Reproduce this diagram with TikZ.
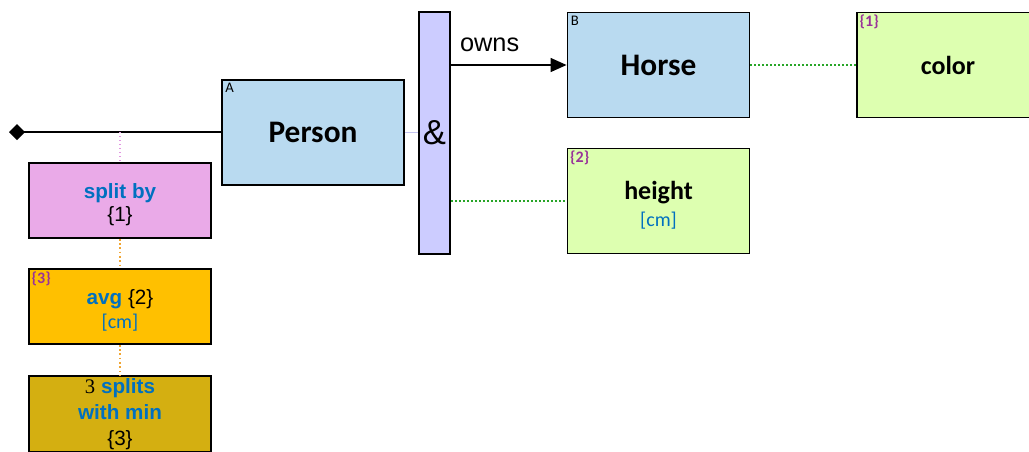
\documentclass[tikz,border=0pt]{standalone}
\usepackage{fontspec}
\setmainfont{Carlito}
\newfontfamily\arialf{Liberation Sans}
\newfontfamily\timesf{Liberation Serif}
\usetikzlibrary{arrows.meta,positioning}

\definecolor{entityblue}{RGB}{185,218,240}
\definecolor{attrgreen}{RGB}{221,255,176}
\definecolor{barlav}{RGB}{204,204,255}
\definecolor{splitpink}{RGB}{234,170,232}
\definecolor{avgorange}{RGB}{255,192,0}
\definecolor{minolive}{RGB}{212,175,17}
\definecolor{keyblue}{RGB}{0,112,192}
\definecolor{tagpurple}{RGB}{153,51,153}
\definecolor{linkgreen}{RGB}{40,165,40}
\definecolor{pinkdot}{RGB}{225,150,225}
\definecolor{orangedot}{RGB}{240,165,50}
\definecolor{lavline}{RGB}{195,195,240}

\newcommand{\entityfont}{\fontsize{23.5}{28}\selectfont\bfseries}
\newcommand{\attrfont}{\fontsize{19.5}{22}\selectfont\bfseries}
\newcommand{\unitfont}{\fontsize{15}{18}\selectfont\color{keyblue}}
\newcommand{\opfont}{\arialf\fontsize{15.5}{18.5}\selectfont}
\newcommand{\kw}[1]{{\bfseries\color{keyblue}#1}}

\tikzset{
  box/.style={draw=black, line width=1.4pt, minimum width=136.5pt, inner sep=0pt, align=center},
  bigbox/.style={box, minimum height=78.75pt},
  smallbox/.style={box, minimum height=56.25pt, font=\opfont},
  tag/.style={anchor=north west, inner sep=3pt, font=\fontsize{11}{12}\selectfont},
  numtag/.style={tag, inner sep=2.5pt, font=\fontsize{12}{13}\selectfont\bfseries, text=tagpurple},
  greenlink/.style={draw=linkgreen, line width=1.4pt, dash pattern=on 1.4pt off 1.6pt}
}

\begin{document}
\begin{tikzpicture}[x=0.75pt, y=-0.75pt]
        \clip (0,0) rectangle (1029,451);
        \useasboundingbox (0,0) rectangle (1029,451);

        % Entities
        \node[bigbox, fill=entityblue, font=\entityfont, label={[tag]north west:A}] (person) at (313,132.5) {Person};
        \node[bigbox, fill=entityblue, font=\entityfont, label={[tag]north west:B}] (horse) at (658.5,65) {Horse};

        % And bar
        \node[draw=black, line width=1.4pt, fill=barlav, minimum width=23.25pt, minimum height=181.5pt, inner sep=0pt,
              font=\arialf\fontsize{26}{28}\selectfont] (bar) at (434.5,133) {\&};

        % Attributes
        \node[bigbox, fill=attrgreen, font=\attrfont, label={[numtag]north west:\{1\}}] (color) at (948,65) {color};
        \node[bigbox, fill=attrgreen, font=\attrfont, label={[numtag]north west:\{2\}}] (height) at (658.5,201) {\rule{0pt}{20pt}height\\[-2pt]{\mdseries\unitfont [cm]}};

        % Operations
        \node[smallbox, fill=splitpink] (split) at (120,200.5) {\rule{0pt}{17.5pt}\kw{split by}\\[-1pt]\{1\}};
        \node[smallbox, fill=avgorange, label={[numtag]north west:\{3\}}] (avg) at (120,306.5) {\rule{0pt}{17pt}\kw{avg} \{2\}\\[0pt]{\rmfamily\unitfont [cm]}};
        \node[smallbox, fill=minolive, minimum height=57pt] (mins) at (120,414) {{\timesf 3} \kw{splits}\\[1pt]\kw{with min}\\[1pt]\{3\}};

        % Root line
        \coordinate (start) at (9,132);
        \draw[{Diamond[length=12pt,width=12pt]}-, line width=1pt] (start) -- (start -| person.west);
        \coordinate (splitjoin) at (split.north |- start);
        \draw[pinkdot, dotted, line width=1pt] (splitjoin) -- (split.north);
        \draw[orangedot, dotted, line width=1.2pt] (split.south) -- (avg.north);
        \draw[orangedot, dotted, line width=1.2pt] (avg.south) -- (mins.north);

        % Links
        \draw[lavline, line width=1pt] (person.east) -- (bar.west |- person.east);
        \draw[-{Triangle[length=12pt,width=10.5pt]}, line width=1pt] (bar.east |- horse.west) -- (horse.west)
            node[pos=0, anchor=south west, xshift=3pt, yshift=6pt, font=\arialf\fontsize{19}{21}\selectfont]{owns};
        \draw[greenlink] (bar.east |- height.west) -- (height.west);
        \draw[greenlink] (horse.east) -- (color.west);
    \end{tikzpicture}
\end{document}
